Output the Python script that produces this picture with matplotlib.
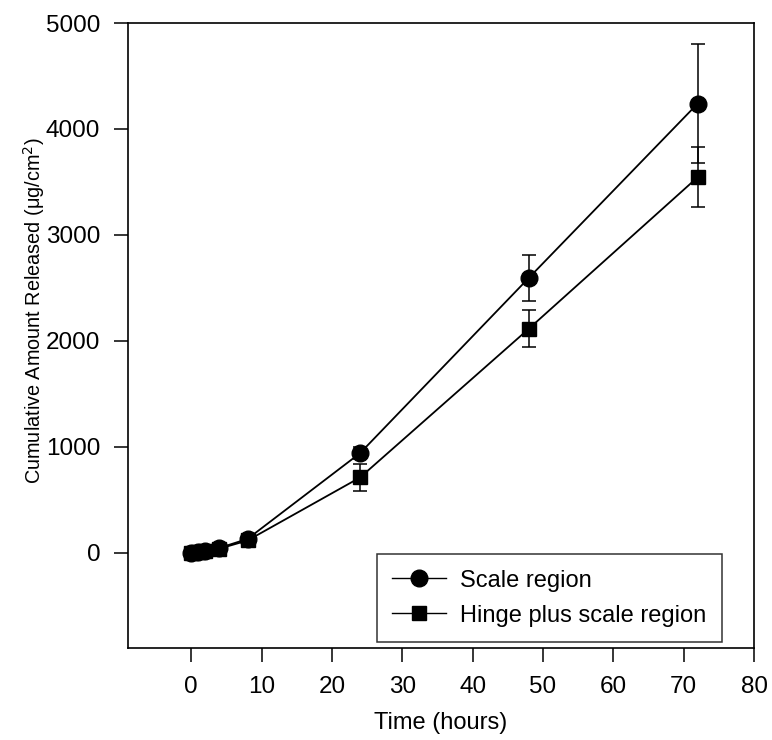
import matplotlib
matplotlib.use("Agg")
import matplotlib.pyplot as plt
from matplotlib.lines import Line2D

# Release profile data
time_h = [0, 1, 2, 4, 8, 24, 48, 72]
scale_mean = [0, 8, 18, 45, 130, 940, 2595, 4240]
scale_err = [0, 0, 0, 0, 0, 60, 215, 565]
hinge_mean = [0, 6, 14, 38, 115, 710, 2115, 3545]
hinge_err = [0, 0, 0, 0, 0, 125, 175, 285]

x_ticks = [0, 10, 20, 30, 40, 50, 60, 70, 80]
y_ticks = [0, 1000, 2000, 3000, 4000, 5000]

plt.rcParams["font.family"] = ["Liberation Sans", "DejaVu Sans"]

fig = plt.figure(figsize=(7.72, 7.40), dpi=100)
ax = fig.add_axes([0.1658, 0.1243, 0.8109, 0.8446])

ax.errorbar(time_h, scale_mean, yerr=scale_err, color="black", marker="o",
            markersize=12, linewidth=1.3, elinewidth=1.1, capsize=5,
            capthick=1.1, zorder=3)
ax.errorbar(time_h, hinge_mean, yerr=hinge_err, color="black", marker="s",
            markersize=10.5, linewidth=1.3, elinewidth=1.1, capsize=5,
            capthick=1.1, zorder=3)

ax.set_xlim(-9, 80)
ax.set_ylim(-900, 5000)
ax.set_xticks(x_ticks)
ax.set_yticks(y_ticks)
ax.tick_params(axis="both", direction="out", length=10, width=1.1,
               labelsize=17.5, pad=10, top=False, right=False)
for sp in ax.spines.values():
    sp.set_linewidth(1.2)

ax.set_xlabel("Time (hours)", fontsize=17, labelpad=10)
ax.set_ylabel("Cumulative Amount Released (\u03bcg/cm$^2$)", fontsize=14.3)
ax.yaxis.set_label_coords(-0.13, 0.54)

handles = [
    Line2D([], [], color="black", marker="o", markersize=12, linewidth=1.0),
    Line2D([], [], color="black", marker="s", markersize=10.5, linewidth=1.0),
]
labels = ["Scale region", "Hinge plus scale region"]
leg = ax.legend(handles, labels, loc="lower right",
                bbox_to_anchor=(0.949, 0.0096), borderaxespad=0,
                fontsize=17, frameon=True, fancybox=False, edgecolor="black",
                handlelength=2.3, borderpad=0.65, labelspacing=0.55,
                handletextpad=0.6)
leg.get_frame().set_linewidth(1.1)

fig.savefig("out.png", dpi=100)
